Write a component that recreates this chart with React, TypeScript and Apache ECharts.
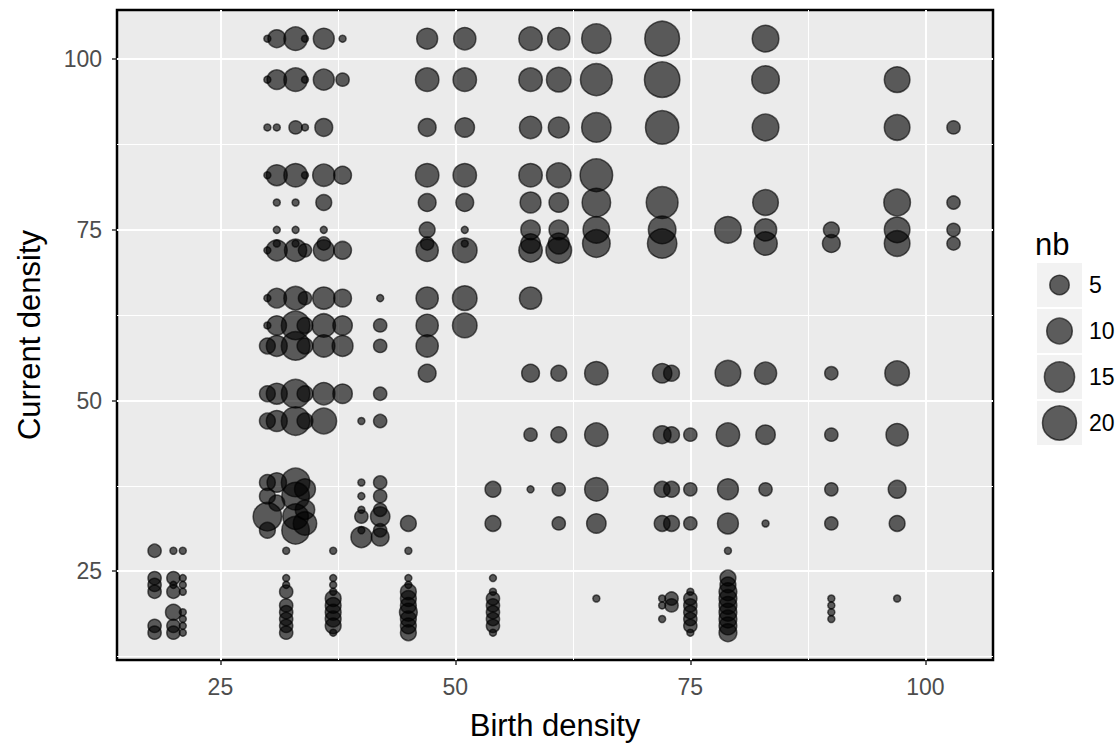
import React, { useEffect, useRef } from "react";
import * as echarts from "echarts";

// ---- data (one entry per point: birth density, current density, nb) ----
const birthDensity: number[] = [
  18, 18, 18, 18, 18, 18,
  20, 20, 20, 20, 20, 20, 20,
  21, 21, 21, 21, 21, 21, 21, 21,
  30, 30, 30, 30, 30, 30, 30, 30, 30, 30, 30, 30, 30, 30,
  31, 31, 31, 31, 31, 31, 31, 31, 31, 31, 31, 31, 31, 31, 31,
  32, 32, 32, 32, 32, 32, 32, 32, 32,
  33, 33, 33, 33, 33, 33, 33, 33, 33, 33, 33, 33, 33, 33, 33, 33, 33,
  34, 34, 34, 34, 34, 34, 34, 34, 34, 34, 34, 34, 34,
  36, 36, 36, 36, 36, 36, 36, 36, 36, 36, 36, 36, 36,
  37, 37, 37, 37, 37, 37, 37, 37, 37, 37,
  38, 38, 38, 38, 38, 38, 38, 38,
  40, 40, 40, 40, 40, 40, 40,
  42, 42, 42, 42, 42, 42, 42, 42, 42, 42, 42,
  45, 45, 45, 45, 45, 45, 45, 45, 45, 45, 45,
  47, 47, 47, 47, 47, 47, 47, 47, 47, 47, 47, 47,
  51, 51, 51, 51, 51, 51, 51, 51, 51, 51,
  54, 54, 54, 54, 54, 54, 54, 54, 54, 54,
  58, 58, 58, 58, 58, 58, 58, 58, 58, 58, 58, 58,
  61, 61, 61, 61, 61, 61, 61, 61, 61, 61, 61, 61,
  65, 65, 65, 65, 65, 65, 65, 65, 65, 65, 65, 65,
  72, 72, 72, 72, 72, 72, 72, 72, 72, 72, 72, 72, 72,
  73, 73, 73, 73, 73, 73,
  75, 75, 75, 75, 75, 75, 75, 75, 75, 75,
  79, 79, 79, 79, 79, 79, 79, 79, 79, 79, 79, 79, 79, 79, 79,
  83, 83, 83, 83, 83, 83, 83, 83, 83, 83,
  90, 90, 90, 90, 90, 90, 90, 90, 90, 90,
  97, 97, 97, 97, 97, 97, 97, 97, 97, 97,
  103, 103, 103, 103,
];

const currentDensity: number[] = [
  28, 24, 23, 22, 17, 16,
  28, 24, 23, 22, 19, 17, 16,
  28, 24, 23, 22, 19, 18, 17, 16,
  103, 97, 90, 83, 72, 65, 61, 58, 51, 47, 38, 36, 33, 31,
  103, 97, 90, 83, 79, 75, 73, 72, 65, 61, 58, 51, 47, 38, 35,
  28, 24, 23, 22, 20, 19, 18, 17, 16,
  103, 97, 90, 83, 79, 75, 73, 72, 65, 61, 58, 51, 47, 38, 36, 33, 31,
  103, 97, 90, 83, 72, 65, 61, 58, 51, 47, 37, 34, 32,
  103, 97, 90, 83, 79, 75, 73, 72, 65, 61, 58, 51, 47,
  28, 24, 23, 22, 21, 20, 19, 18, 17, 16,
  103, 97, 83, 72, 65, 61, 58, 51,
  47, 38, 36, 34, 33, 31, 30,
  65, 61, 58, 51, 47, 38, 36, 34, 33, 31, 30,
  32, 28, 24, 23, 22, 21, 20, 19, 18, 17, 16,
  103, 97, 90, 83, 79, 75, 73, 72, 65, 61, 58, 54,
  103, 97, 90, 83, 79, 75, 73, 72, 65, 61,
  37, 32, 24, 22, 21, 20, 19, 18, 17, 16,
  103, 97, 90, 83, 79, 75, 73, 72, 65, 54, 45, 37,
  103, 97, 90, 83, 79, 75, 73, 72, 54, 45, 37, 32,
  103, 97, 90, 83, 79, 75, 73, 54, 45, 37, 32, 21,
  103, 97, 90, 79, 75, 73, 54, 45, 37, 32, 21, 20, 18,
  54, 45, 37, 32, 21, 20,
  45, 37, 32, 22, 21, 20, 19, 18, 17, 16,
  75, 54, 45, 37, 32, 28, 24, 23, 22, 21, 20, 19, 18, 17, 16,
  103, 97, 90, 79, 75, 73, 54, 45, 37, 32,
  75, 73, 54, 45, 37, 32, 21, 20, 19, 18,
  97, 90, 79, 75, 73, 54, 45, 37, 32, 21,
  90, 79, 75, 73,
];

const nb: number[] = [
  2, 2, 2, 2, 2, 2,
  1, 2, 1, 2, 3, 2, 2,
  1, 1, 1, 1, 1, 1, 1, 1,
  1, 1, 1, 1, 1, 1, 1, 3, 3, 3, 3, 3, 13, 3,
  4, 5, 1, 6, 1, 1, 1, 6, 5, 5, 6, 6, 6, 5, 3,
  1, 1, 1, 2, 2, 2, 2, 2, 2,
  8, 8, 2, 8, 1, 1, 1, 7, 8, 13, 13, 13, 13, 13, 12, 10, 12,
  1, 1, 1, 1, 2, 2, 3, 3, 3, 3, 6, 5, 8,
  6, 6, 4, 7, 3, 1, 2, 6, 7, 8, 7, 7, 10,
  1, 1, 1, 1, 3, 3, 3, 3, 3, 1,
  1, 2, 4, 4, 4, 5, 6, 5,
  1, 1, 1, 1, 2, 1, 6,
  1, 2, 2, 2, 2, 2, 2, 2, 5, 2, 4,
  3, 1, 1, 1, 3, 3, 3, 4, 3, 3, 3,
  6, 8, 4, 8, 4, 3, 2, 7, 7, 7, 7, 4,
  7, 8, 5, 8, 4, 1, 1, 9, 9, 9,
  3, 3, 1, 1, 2, 2, 2, 2, 2, 1,
  8, 8, 7, 8, 6, 5, 5, 8, 7, 4, 2, 1,
  7, 9, 6, 9, 5, 5, 6, 10, 3, 3, 2, 2,
  14, 17, 14, 18, 13, 11, 12, 8, 8, 8, 5, 1,
  21, 22, 19, 17, 12, 14, 5, 4, 3, 3, 1, 1, 1,
  3, 3, 3, 3, 2, 2,
  2, 2, 2, 1, 2, 2, 2, 2, 2, 1,
  11, 10, 8, 6, 6, 1, 3, 3, 4, 4, 4, 4, 4, 4, 4,
  11, 12, 11, 10, 7, 8, 7, 5, 2, 1,
  3, 4, 2, 2, 2, 2, 1, 1, 1, 1,
  10, 10, 11, 10, 10, 9, 7, 4, 3, 1,
  2, 2, 2, 2,
];

const xTicks = [25, 50, 75, 100];
const yTicks = [25, 50, 75, 100];
const xMinor = [37.5, 62.5, 87.5];
const yMinor = [12.5, 37.5, 62.5, 87.5];
const legendBreaks = [5, 10, 15, 20];

const FONT = "'Liberation Sans', Arial, Helvetica, sans-serif";
const POINT_FILL = "rgba(0,0,0,0.62)";

// visible diameter grows with sqrt(nb); symbolSize excludes the stroke
const sizeOf = (n: number) => 7 + 6.2 * Math.sqrt(Math.max(n - 1, 0));

export default function App() {
  const ref = useRef<HTMLDivElement>(null);

  useEffect(() => {
    if (!ref.current) return;
    const chart = echarts.init(ref.current, undefined, { renderer: "svg" });

    const points = birthDensity.map((x, i) => [x, currentDensity[i], nb[i]]);

    const gridLines: any[] = [
      ...xTicks.map((v) => ({ xAxis: v, lineStyle: { width: 2 } })),
      ...xMinor.map((v) => ({ xAxis: v, lineStyle: { width: 1 } })),
      ...yTicks.map((v) => ({ yAxis: v, lineStyle: { width: 2 } })),
      ...yMinor.map((v) => ({ yAxis: v, lineStyle: { width: 1 } })),
    ];

    const legendTop = 263;
    const legendStep = 46;
    const legendGraphics: any[] = [
      {
        type: "text",
        left: 1035,
        top: 229,
        style: { text: "nb", font: `31px ${FONT}`, fill: "#000" },
      },
    ];
    legendBreaks.forEach((b, i) => {
      const y0 = legendTop + i * legendStep;
      legendGraphics.push({
        type: "rect",
        shape: { x: 1037, y: y0, width: 45, height: 44 },
        style: { fill: "#F2F2F2" },
      });
      legendGraphics.push({
        type: "circle",
        shape: { cx: 1059.5, cy: y0 + 22, r: sizeOf(b) / 2 },
        style: { fill: POINT_FILL, stroke: POINT_FILL, lineWidth: 1.5 },
      });
      legendGraphics.push({
        type: "text",
        x: 1089,
        y: y0 + 22,
        style: {
          text: String(b),
          font: `23px ${FONT}`,
          fill: "#000",
          verticalAlign: "middle",
          align: "left",
        },
      });
    });

    chart.setOption({
      animation: false,
      backgroundColor: "#FFFFFF",
      textStyle: { fontFamily: FONT },
      grid: {
        left: 117,
        top: 10,
        width: 876,
        height: 652,
        show: true,
        backgroundColor: "#EBEBEB",
        borderColor: "#000",
        borderWidth: 2.5,
      },
      xAxis: {
        type: "value",
        min: 14,
        max: 107.2,
        axisLine: { show: false },
        splitLine: { show: false },
        axisTick: {
          show: true,
          customValues: xTicks,
          length: 5,
          lineStyle: { color: "#333", width: 1.5 },
        },
        axisLabel: {
          customValues: xTicks,
          fontSize: 23,
          color: "#4D4D4D",
          margin: 15,
          fontFamily: FONT,
        },
        name: "Birth density",
        nameLocation: "middle",
        nameGap: 50,
        nameTextStyle: { fontSize: 31, color: "#000", fontFamily: FONT },
      },
      yAxis: {
        type: "value",
        min: 12,
        max: 107.2,
        axisLine: { show: false },
        splitLine: { show: false },
        axisTick: {
          show: true,
          customValues: yTicks,
          length: 5,
          lineStyle: { color: "#333", width: 1.5 },
        },
        axisLabel: {
          customValues: yTicks,
          fontSize: 23,
          color: "#4D4D4D",
          margin: 15,
          fontFamily: FONT,
        },
        name: "Current density",
        nameLocation: "middle",
        nameGap: 72,
        nameTextStyle: { fontSize: 31, color: "#000", fontFamily: FONT },
      },
      series: [
        {
          type: "line",
          data: [],
          z: 1,
          silent: true,
          markLine: {
            z: 1,
            silent: true,
            symbol: ["none", "none"],
            label: { show: false },
            lineStyle: { color: "#FFFFFF", type: "solid" },
            emphasis: { disabled: true },
            data: gridLines,
          },
        },
        {
          type: "scatter",
          z: 10,
          data: points,
          symbol: "circle",
          symbolSize: (v: number[]) => sizeOf(v[2]),
          itemStyle: {
            color: POINT_FILL,
            borderColor: POINT_FILL,
            borderWidth: 1.5,
            opacity: 1,
          },
          emphasis: { disabled: true },
        },
      ],
      graphic: legendGraphics,
    });

    return () => chart.dispose();
  }, []);

  return (
    <div
      ref={ref}
      style={{ position: "fixed", left: 0, top: 0, width: 1120, height: 746 }}
    />
  );
}
